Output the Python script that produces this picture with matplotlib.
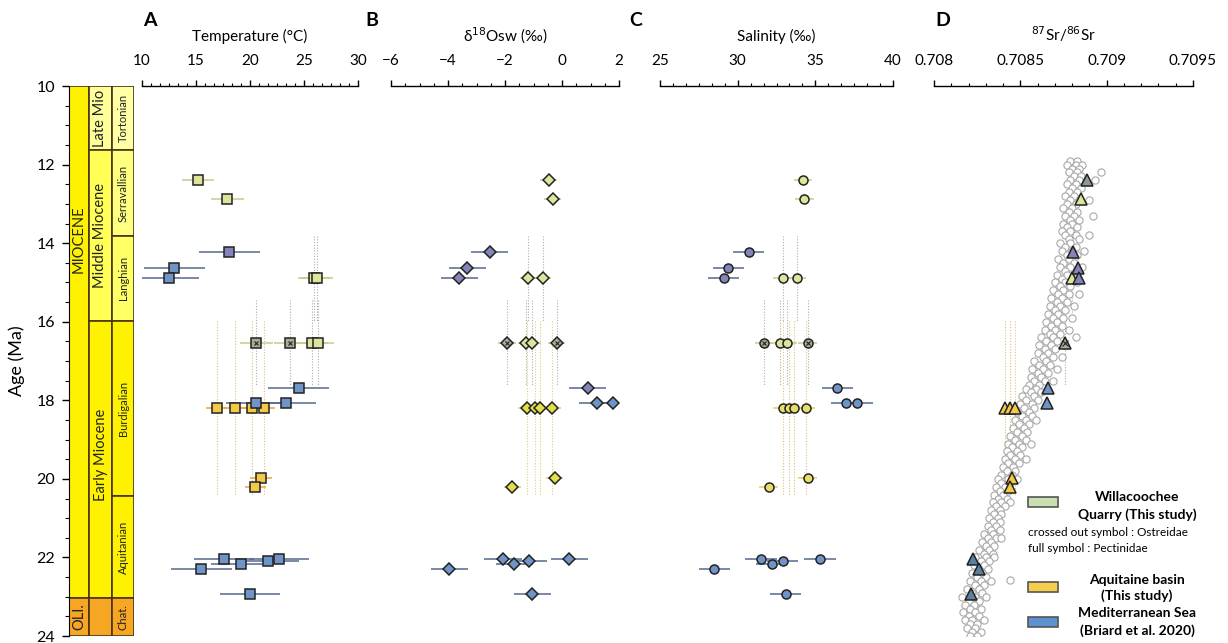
import numpy as np
import matplotlib
matplotlib.use('Agg')
from matplotlib import pyplot as plt
from matplotlib.patches import Rectangle
from matplotlib.ticker import MultipleLocator, AutoMinorLocator, FuncFormatter

nan = np.nan

# Willacoochee Quarry (this study)
wq_age = [12.39, 12.88, 14.88, 14.88, 16.54, 16.54, 16.54, 16.54]
wq_ostreid = [False, False, False, False, True, True, False, False]
wq_age_min = [nan, nan, 13.82, 13.82, 15.45, 15.45, 15.45, 15.45]
wq_age_max = [nan, nan, 15.97, 15.97, 17.6, 17.6, 17.6, 17.6]
wq_temp = [15.2, 17.9, 25.9, 26.2, 20.6, 23.7, 25.7, 26.3]
wq_d18o = [-0.46, -0.32, -1.19, -0.67, -1.93, -0.18, -1.26, -1.05]
wq_sal = [34.2, 34.3, 32.9, 33.8, 31.7, 34.5, 32.7, 33.2]
wq_sr = [0.708886, 0.708851, 0.708799, nan, 0.708759, nan, nan, nan]

# Aquitaine basin (this study)
aq_age = [18.2, 18.2, 18.2, 18.2, 19.97, 20.2]
aq_age_min = [15.97, 15.97, 15.97, 15.97, nan, nan]
aq_age_max = [20.44, 20.44, 20.44, 20.44, nan, nan]
aq_temp = [16.9, 18.6, 20.2, 21.3, 21.0, 20.5]
aq_d18o = [-1.23, -0.95, -0.77, -0.35, -0.25, -1.75]
aq_sal = [32.9, 33.3, 33.6, 34.4, 34.5, 32.0]
aq_sr = [0.708411, 0.70844, 0.70847, nan, 0.70845, 0.70844]

# Mediterranean Sea (Briard et al. 2020)
med_age = [14.22, 14.63, 14.88, 17.68, 18.07, 18.07, 22.04, 22.04, 22.1, 22.17, 22.29, 22.93]
med_temp = [18.1, 13.0, 12.5, 24.5, 20.6, 23.3, 17.6, 22.7, 21.7, 19.2, 15.5, 20.0]
med_d18o = [-2.53, -3.33, -3.6, 0.91, 1.23, 1.79, -2.07, 0.25, -1.16, -1.68, -3.96, -1.05]
med_sal = [30.7, 29.4, 29.1, 36.4, 37.0, 37.7, 31.5, 35.3, 32.9, 32.2, 28.5, 33.1]
med_sr = [0.708805, 0.708834, 0.70884, 0.70866, 0.708654, nan, 0.708226, nan, nan, nan, 0.70826, 0.708214]

# half widths of the horizontal error bars
err_temp = {'wq': 1.5, 'aq': 1.0, 'med': 2.8}
err_d18o = {'wq': 0.3, 'aq': 0.3, 'med': 0.65}
err_sal = {'wq': 0.6, 'aq': 0.6, 'med': 1.0}

# seawater 87Sr/86Sr reference curve (age, values read at that age)
sr_curve = [
    (11.9, [0.70879, 0.70883]), (12.0, [0.70877, 0.70882, 0.70886]), (12.1, [0.70880, 0.70884]),
    (12.2, [0.70878, 0.70883, 0.70897]), (12.3, [0.70881, 0.70885]), (12.4, [0.70879, 0.70884, 0.70893]),
    (12.5, [0.70877, 0.70882]), (12.6, [0.70880, 0.70885]), (12.7, [0.70878, 0.70883]),
    (12.8, [0.70876, 0.70881]), (12.9, [0.70879, 0.70884, 0.70890]), (13.0, [0.70877, 0.70882]),
    (13.1, [0.70875, 0.70880]), (13.2, [0.70878, 0.70883]), (13.3, [0.70876, 0.70881, 0.70892]),
    (13.4, [0.70879, 0.70884]), (13.5, [0.70875, 0.70880]), (13.6, [0.70877, 0.70883]),
    (13.7, [0.70874, 0.70879]), (13.8, [0.70876, 0.70882, 0.70890]), (13.9, [0.70878, 0.70884]),
    (14.0, [0.70873, 0.70879]), (14.1, [0.70876, 0.70882]), (14.2, [0.70874, 0.70880, 0.70887]),
    (14.3, [0.70877, 0.70883]), (14.4, [0.70872, 0.70878]), (14.5, [0.70875, 0.70881]),
    (14.6, [0.70873, 0.70879, 0.70886]), (14.7, [0.70876, 0.70882]), (14.8, [0.70871, 0.70877]),
    (14.9, [0.70874, 0.70880]), (15.0, [0.70870, 0.70876, 0.70883]), (15.1, [0.70873, 0.70879]),
    (15.2, [0.70869, 0.70875]), (15.3, [0.70872, 0.70878, 0.70884]), (15.4, [0.70868, 0.70874]),
    (15.5, [0.70871, 0.70877]), (15.6, [0.70867, 0.70873, 0.70881]), (15.7, [0.70870, 0.70876]),
    (15.8, [0.70866, 0.70872]), (15.9, [0.70869, 0.70875, 0.70880]), (16.0, [0.70865, 0.70871]),
    (16.1, [0.70868, 0.70874]), (16.2, [0.70864, 0.70870, 0.70878]), (16.3, [0.70867, 0.70873]),
    (16.4, [0.70862, 0.70869, 0.70882]), (16.5, [0.70865, 0.70871]), (16.6, [0.70861, 0.70868, 0.70876]),
    (16.7, [0.70864, 0.70870]), (16.8, [0.70860, 0.70866]), (16.9, [0.70863, 0.70869, 0.70874]),
    (17.0, [0.70858, 0.70865]), (17.1, [0.70861, 0.70867]), (17.2, [0.70857, 0.70863, 0.70871]),
    (17.3, [0.70860, 0.70866]), (17.4, [0.70856, 0.70862]), (17.5, [0.70858, 0.70864, 0.70869]),
    (17.6, [0.70855, 0.70861]), (17.7, [0.70853, 0.70859]), (17.8, [0.70856, 0.70862]),
    (17.9, [0.70851, 0.70858]), (18.0, [0.70853, 0.70860]), (18.1, [0.70850, 0.70857]),
    (18.2, [0.70852, 0.70858]), (18.3, [0.70848, 0.70855]), (18.4, [0.70851, 0.70857]),
    (18.5, [0.70847, 0.70853, 0.70859]), (18.6, [0.70849, 0.70855]), (18.7, [0.70846, 0.70852]),
    (18.8, [0.70848, 0.70854]), (18.9, [0.70844, 0.70851]), (19.0, [0.70847, 0.70853]),
    (19.1, [0.70843, 0.70849, 0.70856]), (19.2, [0.70845, 0.70851]), (19.3, [0.70842, 0.70848]),
    (19.4, [0.70844, 0.70850]), (19.5, [0.70841, 0.70847, 0.70853]), (19.6, [0.70843, 0.70849]),
    (19.7, [0.70840, 0.70846]), (19.8, [0.70842, 0.70847]), (19.9, [0.70839, 0.70845]),
    (20.0, [0.70837, 0.70843, 0.70848]), (20.1, [0.70839, 0.70844]), (20.2, [0.70836, 0.70841]),
    (20.3, [0.70838, 0.70843]), (20.4, [0.70835, 0.70840]), (20.5, [0.70837, 0.70842]),
    (20.6, [0.70834, 0.70839, 0.70844]), (20.7, [0.70836, 0.70841]), (20.8, [0.70833, 0.70838]),
    (20.9, [0.70835, 0.70839]), (21.0, [0.70832, 0.70837]), (21.1, [0.70834, 0.70838]),
    (21.2, [0.70831, 0.70836]), (21.3, [0.70833, 0.70838]), (21.4, [0.70829, 0.70834]),
    (21.5, [0.70831, 0.70836, 0.70839]), (21.6, [0.70828, 0.70833]), (21.7, [0.70830, 0.70835]),
    (21.8, [0.70826, 0.70832]), (21.9, [0.70829, 0.70834]), (22.0, [0.70824, 0.70830, 0.70835]),
    (22.1, [0.70827, 0.70832]), (22.2, [0.70823, 0.70829]), (22.3, [0.70826, 0.70831]),
    (22.4, [0.70822, 0.70828]), (22.5, [0.70825, 0.70830]), (22.57, [0.70844]),
    (22.6, [0.70821, 0.70827, 0.70833]), (22.7, [0.70824, 0.70829]), (22.8, [0.70819, 0.70826]),
    (22.9, [0.70822, 0.70828]), (23.0, [0.70816, 0.70824, 0.70830]), (23.1, [0.70820, 0.70826]),
    (23.2, [0.70818, 0.70823]), (23.3, [0.70821, 0.70827]), (23.4, [0.70817, 0.70824]),
    (23.5, [0.70820, 0.70826]), (23.6, [0.70818, 0.70822, 0.70829]), (23.7, [0.70821, 0.70825]),
    (23.8, [0.70819, 0.70824]), (23.9, [0.70822, 0.70827]), (24.0, [0.70821, 0.70825]),
    (24.1, [0.70823]),
]

# stratigraphic column: (name, top, base, column)
strat_units = [
    ('MIOCENE', 10.0, 23.03, 0), ('OLI.', 23.03, 24.0, 0),
    ('Late Mio', 10.0, 11.63, 1), ('Middle Miocene', 11.63, 15.97, 1),
    ('Early Miocene', 15.97, 23.03, 1), ('', 23.03, 24.0, 1),
    ('Tortonian', 10.0, 11.63, 2), ('Serravallian', 11.63, 13.82, 2), ('Langhian', 13.82, 15.97, 2),
    ('Burdigalian', 15.97, 20.44, 2), ('Aquitanian', 20.44, 23.03, 2), ('Chat.', 23.03, 24.0, 2),
]
strat_colors = {
    'MIOCENE': '#fff200', 'OLI.': '#f6a623', 'Late Mio': '#ffff9a', 'Middle Miocene': '#ffff55',
    'Early Miocene': '#fff200', '': '#f6a623', 'Tortonian': '#ffffa6', 'Serravallian': '#ffff80',
    'Langhian': '#ffff66', 'Burdigalian': '#fff200', 'Aquitanian': '#fff200', 'Chat.': '#f6a623',
}
strat_label_age = {'MIOCENE': 13.9, 'Early Miocene': 19.4}

FONT = ['Lato', 'DejaVu Sans']
plt.rcParams['font.family'] = FONT

W, H = 1228, 643
COL_X = [0, 20, 43, 65]

WQ_FACE = '#dfe49c'
WQ_CROSS = '#a9ad96'
WQ_ERR = '#c5cc8a'
AQ_FACE = '#f3c94a'
AQ_ERR = '#f0a040'
MED_FACE = '#6f95c8'
MED_FACE2 = '#8484b8'
MED_ERR = '#55698e'
EDGE = '#222222'


def fig_rect(x0, x1):
    """Axes rectangle from pixel columns (age 10 at y=86, age 24 at y=636)."""
    return [x0 / W, 1 - 636 / H, (x1 - x0) / W, (636 - 86) / H]


def style_top_axis(ax, xlim, major, label, n_minor=6):
    ax.set_xlim(*xlim)
    ax.set_ylim(24, 10)
    for side in ['left', 'right', 'bottom']:
        ax.spines[side].set_visible(False)
    ax.spines['top'].set_linewidth(1.0)
    ax.xaxis.tick_top()
    ax.xaxis.set_label_position('top')
    ax.xaxis.set_major_locator(MultipleLocator(major))
    ax.xaxis.set_minor_locator(AutoMinorLocator(n_minor))
    ax.tick_params(axis='x', which='major', direction='out', length=4, width=1, pad=9, labelsize=11)
    ax.tick_params(axis='x', which='minor', direction='out', length=2.5, width=0.8)
    ax.set_yticks([])
    ax.set_xlabel(label, fontsize=11, labelpad=9)
    ax.patch.set_alpha(0)


def draw_points(ax, ages, vals, err, marker, ms, face, err_color, age_min=None, age_max=None,
                ostreid=None, dot_color='#999999'):
    ages = np.asarray(ages, dtype=float)
    vals = np.asarray(vals, dtype=float)
    ok = ~np.isnan(vals)
    if age_min is not None:
        lo = np.asarray(age_min, dtype=float)
        hi = np.asarray(age_max, dtype=float)
        m = ok & ~np.isnan(lo)
        ax.vlines(vals[m], lo[m], hi[m], colors=dot_color, linestyles=(0, (1, 1.5)), linewidth=0.8,
                  alpha=0.8, zorder=1)
    if err:
        ax.hlines(ages[ok], vals[ok] - err, vals[ok] + err, colors=err_color, linewidth=1.1, zorder=2)
    faces = face if isinstance(face, list) else [face] * len(ages)
    for i in np.where(ok)[0]:
        crossed = ostreid is not None and ostreid[i]
        fc = WQ_CROSS if crossed else faces[i]
        ax.plot(vals[i], ages[i], marker=marker, ms=ms, mfc=fc, mec=EDGE, mew=1.1, ls='none', zorder=4)
        if crossed:
            ax.plot(vals[i], ages[i], marker='x', ms=ms * 0.55, mec=EDGE, mew=0.8, ls='none', zorder=5)


fig = plt.figure(figsize=(W / 100, H / 100), dpi=100)

# stratigraphic column + age axis
ax_s = fig.add_axes(fig_rect(69, 134))
ax_s.set_xlim(0, 65)
ax_s.set_ylim(24, 10)
for name, top, base, col in strat_units:
    x0, x1 = COL_X[col], COL_X[col + 1]
    ax_s.add_patch(Rectangle((x0, top), x1 - x0, base - top, facecolor=strat_colors[name],
                             edgecolor='#4a3418', linewidth=1.2))
    if name:
        mid = strat_label_age.get(name, (top + base) / 2)
        size = {0: 10.5, 1: 10.5, 2: 8}[col]
        ax_s.text((x0 + x1) / 2, mid, name, rotation=90, ha='center', va='center', fontsize=size,
                  color='#222222', clip_on=True)
for side in ['top', 'right', 'bottom']:
    ax_s.spines[side].set_visible(False)
ax_s.set_xticks([])
ax_s.yaxis.set_major_locator(MultipleLocator(2))
ax_s.yaxis.set_minor_locator(MultipleLocator(0.5))
ax_s.tick_params(axis='y', which='major', length=5, width=1, pad=5, labelsize=11.5)
ax_s.tick_params(axis='y', which='minor', length=3, width=0.8)
ax_s.set_ylabel('Age (Ma)', fontsize=13, labelpad=8)

# A temperature
ax_a = fig.add_axes(fig_rect(142, 358))
style_top_axis(ax_a, (10, 30), 5, 'Temperature (°C)')
draw_points(ax_a, wq_age, wq_temp, err_temp['wq'], 's', 6.5, WQ_FACE, WQ_ERR, wq_age_min, wq_age_max, wq_ostreid)
draw_points(ax_a, aq_age, aq_temp, err_temp['aq'], 's', 6.5, AQ_FACE, AQ_ERR, aq_age_min, aq_age_max,
            dot_color='#d8b060')
draw_points(ax_a, med_age, med_temp, err_temp['med'], 's', 6.5, [MED_FACE2] + [MED_FACE] * 11, MED_ERR)

# B d18O seawater
ax_b = fig.add_axes(fig_rect(391, 619))
style_top_axis(ax_b, (-6, 2), 2, r'δ$^{18}$Osw (‰)', n_minor=4)
draw_points(ax_b, wq_age, wq_d18o, err_d18o['wq'], 'D', 6.5, WQ_FACE, WQ_ERR, wq_age_min, wq_age_max, wq_ostreid)
draw_points(ax_b, aq_age, aq_d18o, err_d18o['aq'], 'D', 6.5, '#dfe04a', '#e0d060', aq_age_min, aq_age_max,
            dot_color='#d8c060')
draw_points(ax_b, med_age, med_d18o, err_d18o['med'], 'D', 6.5, [MED_FACE2] * 4 + [MED_FACE] * 8, MED_ERR)

# C salinity
ax_c = fig.add_axes(fig_rect(660, 893))
style_top_axis(ax_c, (25, 40), 5, 'Salinity (‰)')
draw_points(ax_c, wq_age, wq_sal, err_sal['wq'], 'o', 6.5, WQ_FACE, WQ_ERR, wq_age_min, wq_age_max, wq_ostreid)
draw_points(ax_c, aq_age, aq_sal, err_sal['aq'], 'o', 6.5, '#e6df6a', '#e0d060', aq_age_min, aq_age_max,
            dot_color='#d8b060')
draw_points(ax_c, med_age, med_sal, err_sal['med'], 'o', 6.5, [MED_FACE2] * 3 + [MED_FACE] * 9, MED_ERR)

# D strontium isotopes
ax_d = fig.add_axes(fig_rect(934, 1193))
style_top_axis(ax_d, (0.708, 0.7095), 0.0005, r'$^{87}$Sr/$^{86}$Sr', n_minor=5)
ax_d.xaxis.set_major_formatter(FuncFormatter(lambda v, p: '{:g}'.format(round(v, 5))))
curve_age = [a for a, vals in sr_curve for _ in vals]
curve_ratio = [v for _, vals in sr_curve for v in vals]
ax_d.plot(curve_ratio, curve_age, 'o', ms=5.2, mfc='white', mec='#a8a8a8', mew=0.8, ls='none', zorder=2)
draw_points(ax_d, wq_age, wq_sr, 0, '^', 8.5, ['#8e9a94', WQ_FACE, WQ_FACE, WQ_FACE] + [WQ_FACE] * 4, WQ_ERR,
            wq_age_min, wq_age_max, wq_ostreid)
draw_points(ax_d, aq_age, aq_sr, 0, '^', 8.5, AQ_FACE, AQ_ERR, aq_age_min, aq_age_max, dot_color='#d8b060')
draw_points(ax_d, med_age, med_sr, 0, '^', 8.5, [MED_FACE2] * 3 + [MED_FACE] * 2 + ['#5c7f9c'] * 7, MED_ERR)

# panel letters
for letter, xp in [('A', 150), ('B', 372), ('C', 636), ('D', 943)]:
    fig.text(xp / W, 1 - 20 / H, letter, fontsize=14, fontweight='bold', ha='center', va='center')

# legend drawn by hand
legend_patches = [(502, '#c9dfb0'), (587, '#f6cd4c'), (622, '#5b93cf')]
for yp, color in legend_patches:
    fig.patches.append(Rectangle((1028 / W, 1 - (yp + 5) / H), 30 / W, 10 / H, transform=fig.transFigure,
                                 facecolor=color, edgecolor='#555555', linewidth=1.2))
bold_lines = [('Willacoochee', 497), ('Quarry (This study)', 515), ('Aquitaine basin', 580),
              ('(This study)', 596), ('Mediterranean Sea', 613), ('(Briard et al. 2020)', 631)]
for txt, yp in bold_lines:
    fig.text(1137 / W, 1 - yp / H, txt, fontsize=10, fontweight='bold', ha='center', va='center')
for txt, yp in [('crossed out symbol : Ostreidae', 533), ('full symbol : Pectinidae', 549)]:
    fig.text(1028 / W, 1 - yp / H, txt, fontsize=8.5, ha='left', va='center')

fig.savefig('out.png', dpi=100)
